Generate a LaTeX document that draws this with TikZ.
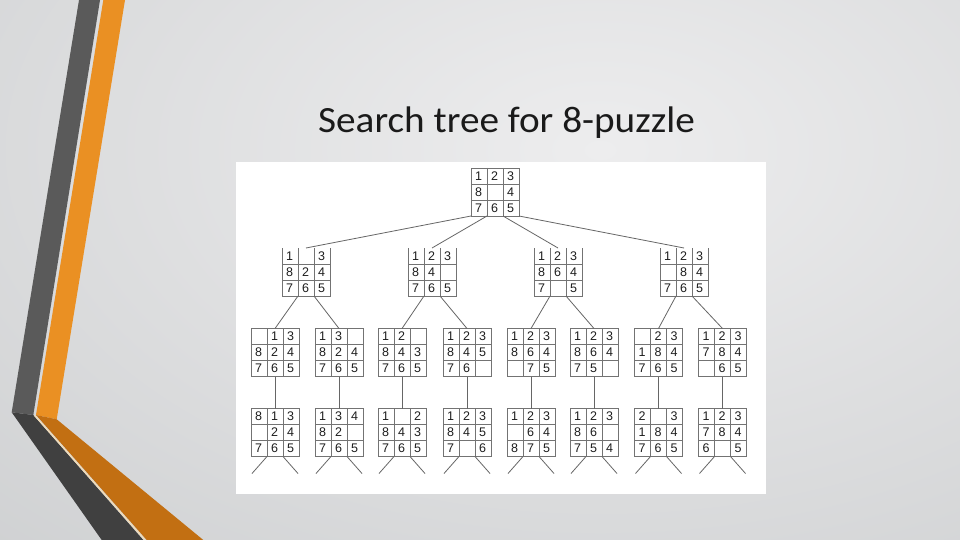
\documentclass[tikz,border=0pt]{standalone}
\usepackage{fontspec}
\setmainfont{Carlito}
\newfontfamily\titlefont[FakeStretch=1.06]{Carlito}
\newfontfamily\digitfont{Liberation Sans}
\usetikzlibrary{calc}
\definecolor{bginner}{HTML}{EDEDEE}
\definecolor{bgouter}{HTML}{B2B5B7}
\definecolor{darkup}{HTML}{5A5A5A}
\definecolor{darklow}{HTML}{404040}
\definecolor{orangeup}{HTML}{EA9023}
\definecolor{orangelow}{HTML}{C26F12}
\definecolor{creamline}{HTML}{F2DCB6}
\definecolor{gridgray}{HTML}{737373}
\definecolor{edgegray}{HTML}{666666}
\definecolor{digitcol}{HTML}{1E1E1E}
\definecolor{titlecol}{HTML}{1A1A1A}
\pgfdeclareradialshading{bgshade}{\pgfpoint{0bp}{0bp}}{color(0bp)=(bginner); color(50bp)=(bgouter)}
\tikzset{
  gridbox/.style={inner sep=0pt, outer sep=0pt, minimum width=48pt, minimum height=48pt},
  gridline/.style={draw=gridgray, line width=0.9pt},
  digit/.style={inner sep=0pt, font=\digitfont\fontsize{12.5}{13}\selectfont, text=digitcol},
  edge/.style={draw=edgegray, line width=0.8pt},
  titlestyle/.style={font=\titlefont\fontsize{37}{42}\selectfont, text=titlecol, inner sep=0pt}
}
% name, left x, top y, digits, top border (1/0)
\newcommand{\puz}[5]{%
  \node[gridbox] (#1) at ({#2+24},{#3+24}) {};
  \foreach \d [count=\k from 0] in {#4} {
    \pgfmathtruncatemacro\prow{\k/3}
    \pgfmathtruncatemacro\pcol{\k-3*\prow}
    \ifnum\d>0 \node[digit] (#1-\k) at ({#2+7.5+16*\pcol},{#3+8+16*\prow}) {\d};\fi
  }
  \ifnum#5=1
    \draw[gridline] ({#2},{#3}) rectangle ({#2+48},{#3+48});
  \else
    \draw[gridline] ({#2},{#3}) -- ({#2},{#3+48}) -- ({#2+48},{#3+48}) -- ({#2+48},{#3});
  \fi
  \draw[gridline] ({#2+16},{#3}) -- ({#2+16},{#3+48});
  \draw[gridline] ({#2+32},{#3}) -- ({#2+32},{#3+48});
  \draw[gridline] ({#2},{#3+16}) -- ({#2+48},{#3+16});
  \draw[gridline] ({#2},{#3+32}) -- ({#2+48},{#3+32});
}
\begin{document}
\begin{tikzpicture}[x=1pt,y=-1pt]
\useasboundingbox (0,0) rectangle (960,540);
\begin{scope}
  \clip (0,0) rectangle (960,540);
  \shade[shading=bgshade] (-300,-400) rectangle (1500,700);
\end{scope}
% decorative stripes
\fill[darkup] (79,0) -- (100,0) -- (33.3,415) -- (11.7,412.3) -- cycle;
\fill[orangeup] (103.3,0) -- (125,0) -- (56.7,419.3) -- (36,415) -- cycle;
\fill[darklow] (11.7,412.3) -- (33.3,415) -- (143.3,540) -- (101.7,540) -- cycle;
\fill[orangelow] (36,415) -- (56.7,419.3) -- (203.3,540) -- (146.7,540) -- cycle;
\draw[creamline, line width=1.2pt] (34.6,415.5) -- (145,540);
% title
\node[titlestyle, anchor=base] (title) at (506.5,133) {Search tree for 8-puzzle};
% picture area
\fill[white] (236,162) rectangle (766,494);
% root
\puz{root}{471}{168}{1,2,3,8,0,4,7,6,5}{1}
% level 1
\puz{La}{282}{248}{1,0,3,8,2,4,7,6,5}{0}
\puz{Lb}{408}{248}{1,2,3,8,4,0,7,6,5}{0}
\puz{Lc}{534}{248}{1,2,3,8,6,4,7,0,5}{0}
\puz{Ld}{660}{248}{1,2,3,0,8,4,7,6,5}{0}
% level 2
\puz{Ma}{251}{328.5}{0,1,3,8,2,4,7,6,5}{1}
\puz{Mb}{315}{328.5}{1,3,0,8,2,4,7,6,5}{1}
\puz{Mc}{378}{328.5}{1,2,0,8,4,3,7,6,5}{1}
\puz{Md}{443}{328.5}{1,2,3,8,4,5,7,6,0}{1}
\puz{Me}{507}{328.5}{1,2,3,8,6,4,0,7,5}{1}
\puz{Mf}{570}{328.5}{1,2,3,8,6,4,7,5,0}{1}
\puz{Mg}{634.5}{328.5}{0,2,3,1,8,4,7,6,5}{1}
\puz{Mh}{698.5}{328.5}{1,2,3,7,8,4,0,6,5}{1}
% level 3
\puz{Na}{251}{408.5}{8,1,3,0,2,4,7,6,5}{1}
\puz{Nb}{315}{408.5}{1,3,4,8,2,0,7,6,5}{1}
\puz{Nc}{378}{408.5}{1,0,2,8,4,3,7,6,5}{1}
\puz{Nd}{443}{408.5}{1,2,3,8,4,5,7,0,6}{1}
\puz{Ne}{507}{408.5}{1,2,3,0,6,4,8,7,5}{1}
\puz{Nf}{570}{408.5}{1,2,3,8,6,0,7,5,4}{1}
\puz{Ng}{634.5}{408.5}{2,0,3,1,8,4,7,6,5}{1}
\puz{Nh}{698.5}{408.5}{1,2,3,7,8,4,6,0,5}{1}
% root edges
\draw[edge] (root.south west) -- (La.north);
\draw[edge] ($(root.south west)!1/3!(root.south east)$) -- (Lb.north);
\draw[edge] ($(root.south west)!2/3!(root.south east)$) -- (Lc.north);
\draw[edge] (root.south east) -- (Ld.north);
% level 1 -> level 2
\foreach \p/\l/\r in {La/Ma/Mb, Lb/Mc/Md, Lc/Me/Mf, Ld/Mg/Mh} {
  \draw[edge] ($(\p.south west)!1/3!(\p.south east)$) -- (\l.north);
  \draw[edge] ($(\p.south west)!2/3!(\p.south east)$) -- (\r.north);
}
% level 2 -> level 3
\foreach \a/\b in {Ma/Na, Mb/Nb, Mc/Nc, Md/Nd, Me/Ne, Mf/Nf, Mg/Ng, Mh/Nh} {
  \draw[edge] (\a.south) -- (\b.north);
}
% dangling edges below level 3
\foreach \n in {Na, Nb, Nc, Nd, Ne, Nf, Ng, Nh} {
  \coordinate (\n-bl) at ($(\n.south west)!1/3!(\n.south east)$);
  \coordinate (\n-br) at ($(\n.south west)!2/3!(\n.south east)$);
  \coordinate (\n-el) at ($(\n-bl)+(-15,17)$);
  \coordinate (\n-er) at ($(\n-br)+(15,17)$);
  \draw[edge] (\n-bl) -- (\n-el);
  \draw[edge] (\n-br) -- (\n-er);
}
\end{tikzpicture}
\end{document}
